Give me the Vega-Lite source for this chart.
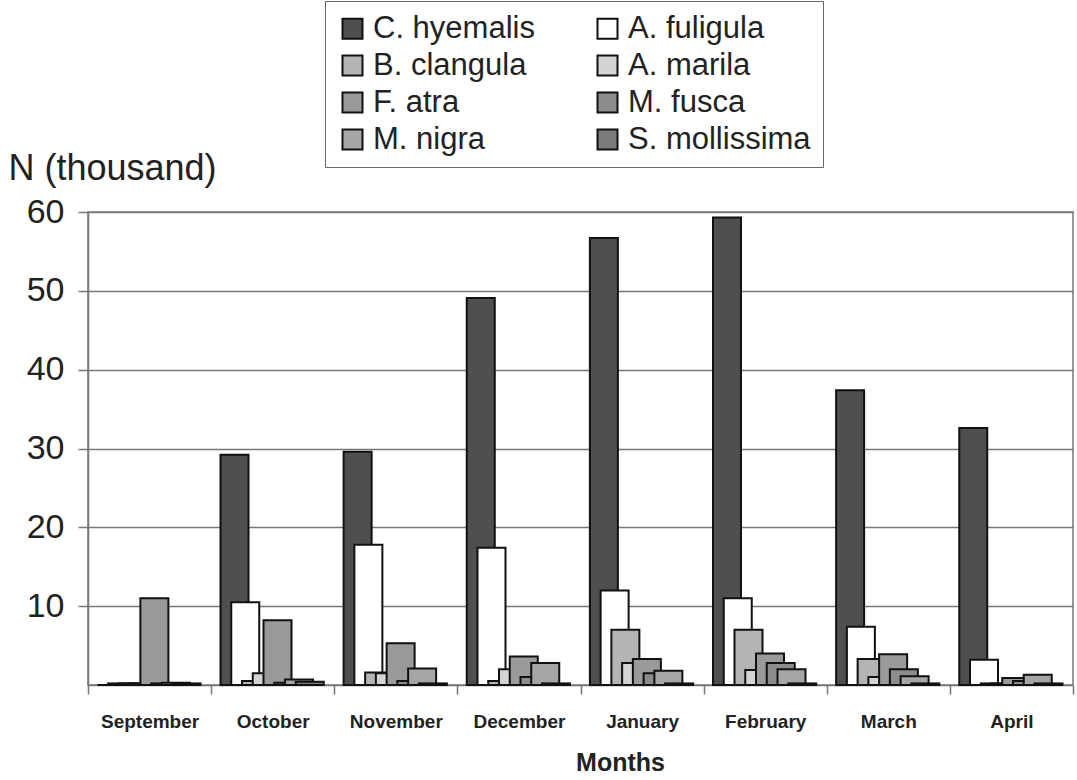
{
  "$schema": "https://vega.github.io/schema/vega-lite/v6.json",
  "autosize": {"type": "none"},
  "width": 985,
  "height": 473,
  "padding": {"left": 88, "top": 212, "right": 4, "bottom": 95},
  "background": "white",
  "config": {
    "font": "Liberation Sans",
    "view": {"stroke": "#777", "strokeWidth": 1.5}
  },
  "data": {
    "values": [
      {"month": "September", "species": "C. hyemalis", "n": 0},
      {"month": "September", "species": "A. fuligula", "n": 0.2},
      {"month": "September", "species": "B. clangula", "n": 0.2},
      {"month": "September", "species": "A. marila", "n": 0.2},
      {"month": "September", "species": "F. atra", "n": 11.0},
      {"month": "September", "species": "M. fusca", "n": 0.2},
      {"month": "September", "species": "M. nigra", "n": 0.3},
      {"month": "September", "species": "S. mollissima", "n": 0.2},
      {"month": "October", "species": "C. hyemalis", "n": 29.2},
      {"month": "October", "species": "A. fuligula", "n": 10.5},
      {"month": "October", "species": "B. clangula", "n": 0.5},
      {"month": "October", "species": "A. marila", "n": 1.5},
      {"month": "October", "species": "F. atra", "n": 8.2},
      {"month": "October", "species": "M. fusca", "n": 0.3},
      {"month": "October", "species": "M. nigra", "n": 0.7},
      {"month": "October", "species": "S. mollissima", "n": 0.4},
      {"month": "November", "species": "C. hyemalis", "n": 29.6},
      {"month": "November", "species": "A. fuligula", "n": 17.8},
      {"month": "November", "species": "B. clangula", "n": 1.6},
      {"month": "November", "species": "A. marila", "n": 1.5},
      {"month": "November", "species": "F. atra", "n": 5.3},
      {"month": "November", "species": "M. fusca", "n": 0.5},
      {"month": "November", "species": "M. nigra", "n": 2.1},
      {"month": "November", "species": "S. mollissima", "n": 0.2},
      {"month": "December", "species": "C. hyemalis", "n": 49.1},
      {"month": "December", "species": "A. fuligula", "n": 17.4},
      {"month": "December", "species": "B. clangula", "n": 0.5},
      {"month": "December", "species": "A. marila", "n": 2.0},
      {"month": "December", "species": "F. atra", "n": 3.6},
      {"month": "December", "species": "M. fusca", "n": 1.0},
      {"month": "December", "species": "M. nigra", "n": 2.8},
      {"month": "December", "species": "S. mollissima", "n": 0.2},
      {"month": "January", "species": "C. hyemalis", "n": 56.7},
      {"month": "January", "species": "A. fuligula", "n": 12.0},
      {"month": "January", "species": "B. clangula", "n": 7.0},
      {"month": "January", "species": "A. marila", "n": 2.8},
      {"month": "January", "species": "F. atra", "n": 3.3},
      {"month": "January", "species": "M. fusca", "n": 1.5},
      {"month": "January", "species": "M. nigra", "n": 1.8},
      {"month": "January", "species": "S. mollissima", "n": 0.2},
      {"month": "February", "species": "C. hyemalis", "n": 59.3},
      {"month": "February", "species": "A. fuligula", "n": 11.0},
      {"month": "February", "species": "B. clangula", "n": 7.0},
      {"month": "February", "species": "A. marila", "n": 1.9},
      {"month": "February", "species": "F. atra", "n": 4.0},
      {"month": "February", "species": "M. fusca", "n": 2.8},
      {"month": "February", "species": "M. nigra", "n": 2.0},
      {"month": "February", "species": "S. mollissima", "n": 0.2},
      {"month": "March", "species": "C. hyemalis", "n": 37.4},
      {"month": "March", "species": "A. fuligula", "n": 7.4},
      {"month": "March", "species": "B. clangula", "n": 3.3},
      {"month": "March", "species": "A. marila", "n": 1.0},
      {"month": "March", "species": "F. atra", "n": 3.9},
      {"month": "March", "species": "M. fusca", "n": 2.0},
      {"month": "March", "species": "M. nigra", "n": 1.1},
      {"month": "March", "species": "S. mollissima", "n": 0.2},
      {"month": "April", "species": "C. hyemalis", "n": 32.6},
      {"month": "April", "species": "A. fuligula", "n": 3.2},
      {"month": "April", "species": "B. clangula", "n": 0.2},
      {"month": "April", "species": "A. marila", "n": 0.2},
      {"month": "April", "species": "F. atra", "n": 0.9},
      {"month": "April", "species": "M. fusca", "n": 0.5},
      {"month": "April", "species": "M. nigra", "n": 1.3},
      {"month": "April", "species": "S. mollissima", "n": 0.2}
    ]
  },
  "mark": {"type": "bar", "stroke": "#111", "strokeWidth": 2, "width": 28},
  "encoding": {
    "x": {
      "field": "month",
      "type": "nominal",
      "sort": ["September", "October", "November", "December", "January", "February", "March", "April"],
      "scale": {"paddingInner": 0, "paddingOuter": 0},
      "axis": {
        "title": "Months",
        "titleFontSize": 25,
        "titleFontWeight": "bold",
        "titleColor": "#222",
        "titleX": 532,
        "titleY": 90,
        "titleAlign": "center",
        "titleBaseline": "bottom",
        "labelAngle": 0,
        "labelFontSize": 19,
        "labelFontWeight": "bold",
        "labelColor": "#222",
        "labelPadding": 18,
        "tickBand": "extent",
        "tickSize": 9,
        "tickColor": "#777",
        "tickWidth": 1.5,
        "domainColor": "#777",
        "domainWidth": 1.5
      }
    },
    "xOffset": {
      "field": "species",
      "type": "nominal",
      "sort": ["C. hyemalis", "A. fuligula", "B. clangula", "A. marila", "F. atra", "M. fusca", "M. nigra", "S. mollissima"],
      "scale": {"paddingInner": 0, "paddingOuter": 0, "range": [18, 104]}
    },
    "y": {
      "field": "n",
      "type": "quantitative",
      "scale": {"domain": [0, 60]},
      "axis": {
        "title": "N (thousand)",
        "titleAngle": 0,
        "titleAlign": "left",
        "titleBaseline": "middle",
        "titleX": -80,
        "titleY": -44,
        "titleFontSize": 36,
        "titleFontWeight": "normal",
        "titleColor": "#222",
        "values": [10, 20, 30, 40, 50, 60],
        "labelFontSize": 34,
        "labelColor": "#222",
        "labelPadding": 14,
        "tickSize": 10,
        "tickColor": "#777",
        "tickWidth": 1.5,
        "grid": true,
        "gridColor": "#777",
        "gridWidth": 1.5,
        "domainColor": "#777",
        "domainWidth": 1.5
      }
    },
    "fill": {
      "field": "species",
      "type": "nominal",
      "sort": ["C. hyemalis", "A. fuligula", "B. clangula", "A. marila", "F. atra", "M. fusca", "M. nigra", "S. mollissima"],
      "scale": {
        "domain": ["C. hyemalis", "A. fuligula", "B. clangula", "A. marila", "F. atra", "M. fusca", "M. nigra", "S. mollissima"],
        "range": ["#4f4f4f", "#ffffff", "#b4b4b4", "#d4d4d4", "#9a9a9a", "#8c8c8c", "#a6a6a6", "#7c7c7c"]
      },
      "legend": {
        "title": null,
        "orient": "none",
        "legendX": 237,
        "legendY": -211,
        "direction": "horizontal",
        "columns": 2,
        "columnPadding": 57,
        "rowPadding": 5,
        "padding": 12,
        "strokeColor": "#666",
        "symbolType": "square",
        "symbolSize": 400,
        "symbolStrokeColor": "#111",
        "symbolStrokeWidth": 2,
        "symbolOpacity": 1,
        "labelFontSize": 31,
        "labelColor": "#222",
        "labelOffset": 5,
        "labelLimit": 300
      }
    }
  }
}
